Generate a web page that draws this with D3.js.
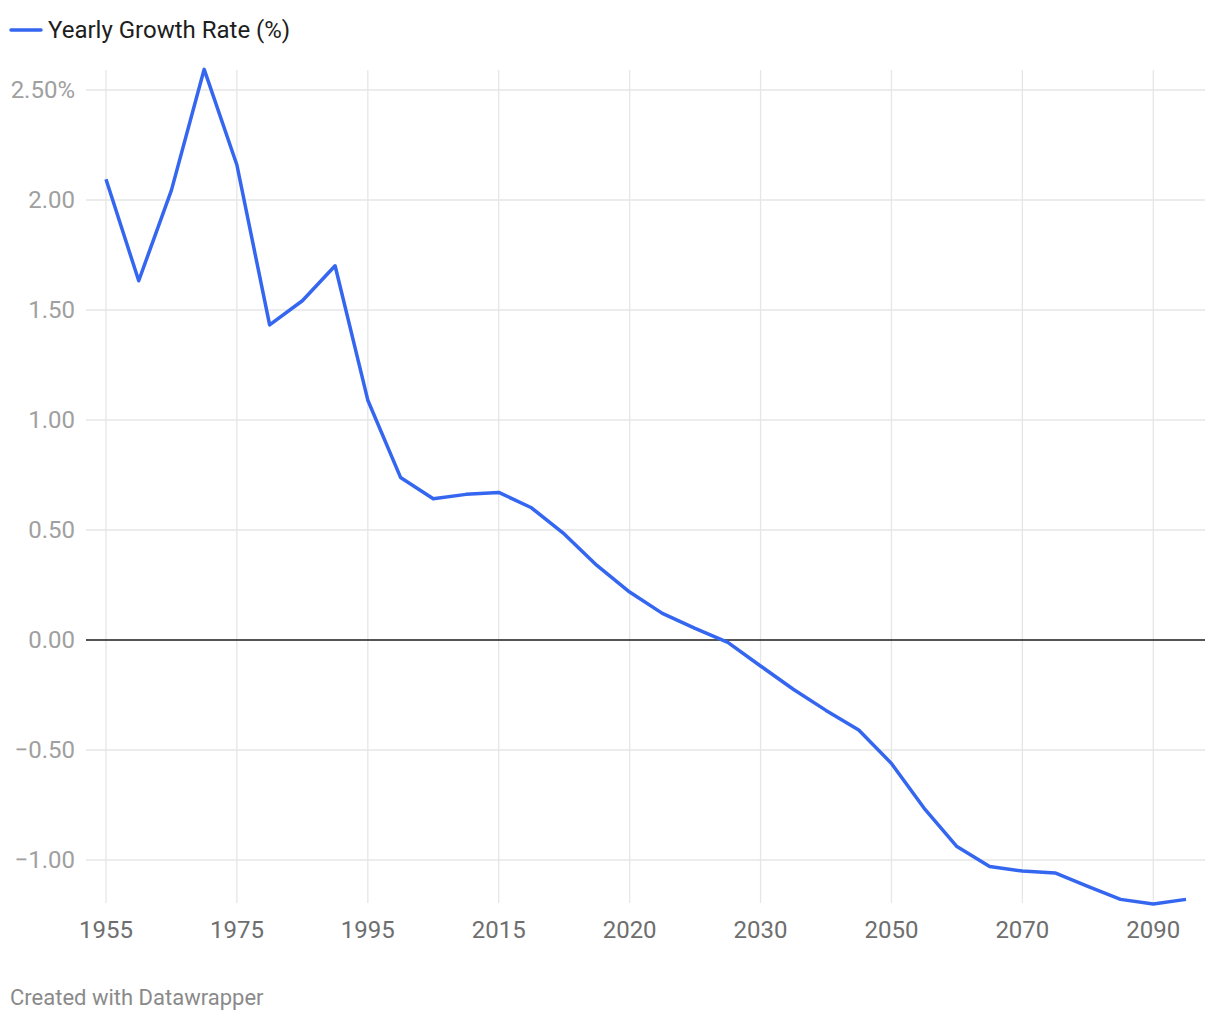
<!DOCTYPE html>
<html>
<head>
<meta charset="utf-8">
<script src="https://cdn.jsdelivr.net/npm/d3@7"></script>
<style>
  html, body { margin: 0; padding: 0; background: #fff; }
  svg { display: block; font-family: Roboto, "Noto Sans", sans-serif; }
</style>
</head>
<body>
<svg id="chart" width="1220" height="1020"></svg>
<script>
const years = ["1955","1960","1965","1970","1975","1980","1985","1990","1995","2000","2005","2010","2015",
  "2016","2017","2018","2020","2021","2022","2025","2030","2035","2040","2045","2050","2055","2060","2065",
  "2070","2075","2080","2085","2090","2095"];
const growthRate = [2.094,1.633,2.045,2.594,2.159,1.432,1.542,1.701,1.09,0.739,0.642,0.662,0.671,
  0.601,0.482,0.339,0.218,0.121,0.053,-0.011,-0.118,-0.224,-0.32,-0.409,-0.561,-0.765,-0.939,-1.03,
  -1.05,-1.059,-1.12,-1.179,-1.2,-1.179];
const xTickLabels = ["1955","1975","1995","2015","2020","2030","2050","2070","2090"];
const yTicks = [-1, -0.5, 0, 0.5, 1, 1.5, 2, 2.5];
const seriesName = "Yearly Growth Rate (%)";

const svg = d3.select("#chart");
const x = d3.scalePoint().domain(years).range([106, 1186]).padding(0);
const y = d3.scaleLinear().domain([-1.2, 2.6]).range([904, 68]);

const gridLeft = 86, gridRight = 1205;
const lineColor = "#3466f0";

// horizontal grid
svg.append("g").selectAll("line").data(yTicks.filter(d => d !== 0)).join("line")
  .attr("x1", gridLeft).attr("x2", gridRight)
  .attr("y1", d => y(d)).attr("y2", d => y(d))
  .attr("stroke", "#e6e6e6").attr("stroke-width", 1.3);

// vertical grid
svg.append("g").selectAll("line").data(xTickLabels).join("line")
  .attr("x1", d => x(d)).attr("x2", d => x(d))
  .attr("y1", 70).attr("y2", 903)
  .attr("stroke", "#e6e6e6").attr("stroke-width", 1.3);

// zero line
svg.append("line")
  .attr("x1", gridLeft).attr("x2", gridRight)
  .attr("y1", y(0)).attr("y2", y(0))
  .attr("stroke", "#1d1d1d").attr("stroke-width", 1.5);

// y labels
const fmt = d => (d < 0 ? "\u2212" : "") + Math.abs(d).toFixed(2) + (d === 2.5 ? "%" : "");
svg.append("g").selectAll("text").data(yTicks).join("text")
  .attr("x", 75).attr("y", d => y(d) + 8)
  .attr("text-anchor", "end")
  .attr("fill", "#a0a0a0").attr("font-size", 24)
  .text(fmt);

// x labels
svg.append("g").selectAll("text").data(xTickLabels).join("text")
  .attr("x", d => x(d)).attr("y", 938)
  .attr("text-anchor", "middle")
  .attr("fill", "#6e6e6e").attr("font-size", 24)
  .text(d => d);

// line
const line = d3.line().x((d, i) => x(years[i])).y(d => y(d));
svg.append("path").datum(growthRate)
  .attr("d", line)
  .attr("fill", "none")
  .attr("stroke", lineColor).attr("stroke-width", 3.5)
  .attr("stroke-linejoin", "round");

// legend
svg.append("line").attr("x1", 11).attr("x2", 41).attr("y1", 30).attr("y2", 30)
  .attr("stroke", lineColor).attr("stroke-width", 3.5).attr("stroke-linecap", "round");
svg.append("text").attr("x", 48).attr("y", 37.5)
  .attr("fill", "#1d1d1d").attr("font-size", 24)
  .text(seriesName);

// credit
svg.append("text").attr("x", 10).attr("y", 1005)
  .attr("fill", "#8a8a8a").attr("font-size", 22)
  .text("Created with Datawrapper");
</script>
</body>
</html>
